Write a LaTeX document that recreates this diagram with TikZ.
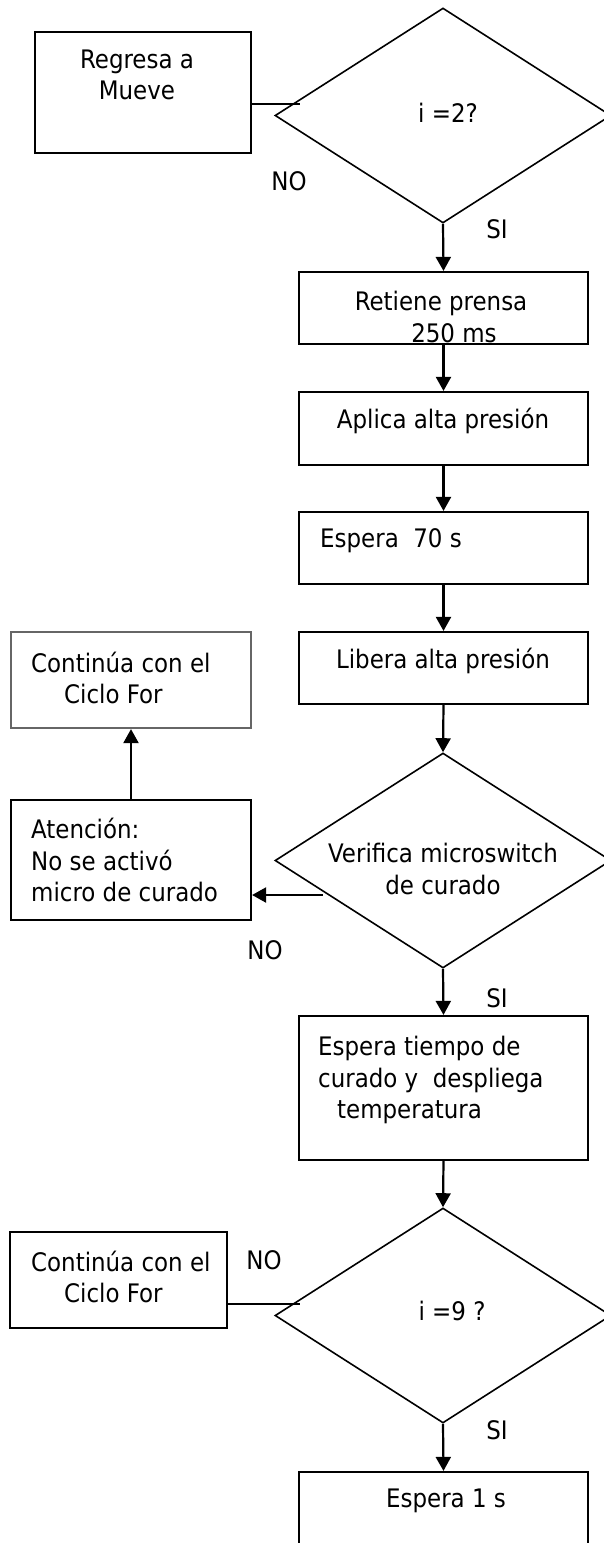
\documentclass[tikz,border=0pt]{standalone}
\usepackage{fontspec}
\setmainfont{DejaVu Sans Condensed}
\usetikzlibrary{shapes.geometric,arrows.meta}

\begin{document}
\begin{tikzpicture}[x=1pt,y=-1pt]
			\tikzset{font=\fontsize{25.5}{31.5}\selectfont}
			
			\tikzset{caja/.style = {shape=rectangle,draw,line width=2.2pt,inner sep=0pt}}
			
			\tikzset{rombo/.style = {shape=diamond,draw,line width=1.6pt,inner sep=0pt,minimum width=336pt,minimum height=215pt}}
			
			\tikzset{texto/.style = {inner sep=0pt,align=center}}
			
			\tikzset{flecha/.style = {line width=2.2pt,->,> = {Triangle[width=15pt,length=14pt]}}}
			
			\useasboundingbox (0,0) rectangle (604,1543);
			\clip (0,0) rectangle (604,1543);
			
			% cajas y rombos
			
			\node[caja,minimum width=216pt,minimum height=121pt] (regresa) at (143,92.5) {};
			
			\node[rombo] (d1) at (443,115.5) {};
			
			\node[caja,minimum width=289pt,minimum height=72pt] (retiene) at (443.5,308) {};
			
			\node[caja,minimum width=289pt,minimum height=73pt] (aplica) at (443.5,428.5) {};
			
			\node[caja,minimum width=289pt,minimum height=72pt] (espera70) at (443.5,548) {};
			
			\node[caja,minimum width=289pt,minimum height=72pt] (libera) at (443.5,668) {};
			
			\node[caja,draw=black!60,minimum width=240pt,minimum height=96pt] (cont1) at (131,680) {};
			
			\node[caja,minimum width=240pt,minimum height=120pt] (aten) at (131,860) {};
			
			\node[rombo] (d2) at (443,860.5) {};
			
			\node[caja,minimum width=289pt,minimum height=144pt] (tiempo) at (443.5,1088) {};
			
			\node[rombo] (d3) at (443,1315.5) {};
			
			\node[caja,minimum width=217pt,minimum height=96pt] (cont2) at (118.5,1280) {};
			
			\node[caja,minimum width=289pt,minimum height=80pt] (espera1) at (443.5,1512) {};
			
			% textos
			
			\node[texto] (t-regresa) at (137,75) {Regresa a\\Mueve};
			\node[texto] (t-d1) at (448,113) {i =2?};
			\node[texto] (t-retiene) at (441,317) {Retiene prensa\\\hspace*{26pt}250 ms};
			\node[texto] (t-aplica) at (443,421) {Aplica alta presión};
			\node[texto,anchor=west] (t-espera70) at (320,541) {Espera\ \ 70 s};
			\node[texto] (t-libera) at (443,661) {Libera alta presión};
			\node[texto,anchor=west,align=left] (t-cont1) at (31,678) {Continúa con el\\\hspace*{33pt}Ciclo For};
			\node[texto,anchor=west,align=left] (t-aten) at (31,860) {Atención:\\No se activó\\micro de curado};
			\node[texto] (t-d2) at (443,869) {Verifica microswitch\\de curado};
			\node[texto,anchor=west,align=left] (t-tiempo) at (318,1080) {Espera tiempo de\\curado y\ \ despliega\\\hspace*{19pt}temperatura};
			\node[texto] (t-d3) at (452,1311) {i =9 ?};
			\node[texto,anchor=west,align=left] (t-cont2) at (31,1277) {Continúa con el\\\hspace*{33pt}Ciclo For};
			\node[texto] (t-espera1) at (446,1501) {Espera 1 s};
			
			\node[texto] (no1) at (289,181) {NO};
			\node[texto] (si1) at (497,229) {SI};
			\node[texto] (no2) at (265,950) {NO};
			\node[texto] (si2) at (497,998) {SI};
			\node[texto] (no3) at (264,1260) {NO};
			\node[texto] (si3) at (497,1430) {SI};
			
			%flechas
			
			\coordinate (e1) at (300,104);
			\coordinate (e2) at (323,895);
			\coordinate (e3) at (300,1304);
			
			\draw[line width=2.2pt] (regresa.east |- e1) -- (e1);
			\draw[flecha] (d1.south) -- (retiene.north);
			\draw[flecha] (retiene.south) -- (aplica.north);
			\draw[flecha] (aplica.south) -- (espera70.north);
			\draw[flecha] (espera70.south) -- (libera.north);
			\draw[flecha] (libera.south) -- (d2.north);
			\draw[flecha] (e2) -- (aten.east |- e2);
			\draw[flecha] (aten.north) -- (cont1.south);
			\draw[flecha] (d2.south) -- (tiempo.north);
			\draw[flecha] (tiempo.south) -- (d3.north);
			\draw[line width=2.2pt] (cont2.east |- e3) -- (e3);
			\draw[flecha] (d3.south) -- (espera1.north);
\end{tikzpicture}
\end{document}
